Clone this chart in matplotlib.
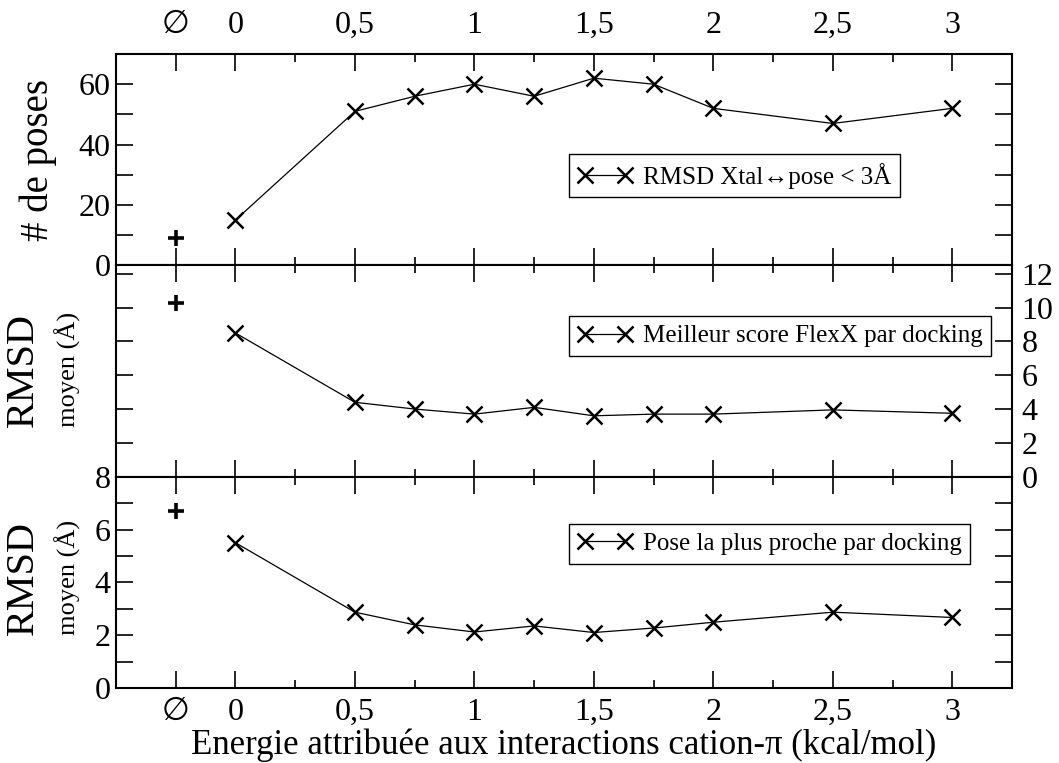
import numpy as np
import matplotlib
matplotlib.use("Agg")
from matplotlib import pyplot as plt
from matplotlib.ticker import MultipleLocator, FixedLocator, FuncFormatter

plt.rcParams['font.family'] = ['Liberation Serif', 'DejaVu Serif', 'DejaVu Sans']

# energie cation-pi (kcal/mol); -0.25 = sans terme cation-pi
energie = [0, 0.5, 0.75, 1, 1.25, 1.5, 1.75, 2, 2.5, 3]
x_vide = -0.25
tick_pos = [-0.25, 0, 0.5, 1, 1.5, 2, 2.5, 3]
tick_lab = ['\u2205', '0', '0,5', '1', '1,5', '2', '2,5', '3']

nb_poses = [15, 51, 56, 60, 56, 62, 60, 52, 47, 52]
rmsd_score = [8.5, 4.4, 4.0, 3.7, 4.1, 3.6, 3.7, 3.7, 3.95, 3.75]
rmsd_proche = [5.5, 2.87, 2.39, 2.12, 2.35, 2.1, 2.27, 2.49, 2.87, 2.67]
vide = [9, 10.3, 6.7]   # valeurs sans interaction cation-pi

labels = ["RMSD Xtal\u2194pose < 3\u00c5",
          "Meilleur score FlexX par docking",
          "Pose la plus proche par docking"]

fig, axs = plt.subplots(3, 1, sharex=True, figsize=(10.59, 7.63), dpi=100)
fig.subplots_adjust(left=0.1095, right=0.9556, top=0.9292, bottom=0.0983, hspace=0)

series = [nb_poses, rmsd_score, rmsd_proche]
ylims = [(0, 70), (0, 12.5), (0, 8)]
yticks = [10, 2, 1]
legend_top = [0.528, 0.76, 0.777]

for i, ax in enumerate(axs):
    ax.plot(energie, series[i], color='black', lw=0.9, marker='x', ms=11, mew=1.8,
            label=labels[i])
    ax.plot([x_vide], [vide[i]], ls='none', color='black', marker='+', ms=11, mew=2.6)
    ax.set_xlim(-0.5, 3.25)
    ax.set_ylim(*ylims[i])
    ax.xaxis.set_major_locator(FixedLocator(tick_pos))
    ax.xaxis.set_minor_locator(FixedLocator([0.25, 0.75, 1.25, 1.75, 2.25, 2.75]))
    ax.yaxis.set_major_locator(MultipleLocator(yticks[i]))
    ax.tick_params(which='both', direction='in', top=True, bottom=True, left=True, right=True,
                   width=1.2, labelsize=23, labelbottom=False, labeltop=False,
                   labelleft=False, labelright=False)
    ax.tick_params(which='major', length=12, pad=7)
    ax.tick_params(which='minor', length=6)
    for s in ax.spines.values():
        s.set_linewidth(1.5)
    leg = ax.legend(loc='upper left', bbox_to_anchor=(0.5056, legend_top[i]), borderaxespad=0,
                    numpoints=2, fontsize=18, fancybox=False, framealpha=1, edgecolor='black',
                    handlelength=2.2, handletextpad=0.4, borderpad=0.35)
    leg.get_frame().set_linewidth(1.0)

axs[0].set_xticklabels(tick_lab)
axs[0].tick_params(labeltop=True, labelleft=True)
axs[0].tick_params(axis='x', pad=10)
axs[0].tick_params(axis='y', pad=4)
axs[0].yaxis.set_major_formatter(FuncFormatter(
    lambda v, p: '%d' % v if v % 20 == 0 and v < 70 else ''))
axs[1].tick_params(labelright=True)
axs[1].yaxis.set_major_formatter(FuncFormatter(
    lambda v, p: '%d' % v if v <= 12 else ''))
axs[2].tick_params(labelbottom=True, labelleft=True)
axs[2].tick_params(axis='y', pad=4)
axs[2].yaxis.set_major_formatter(FuncFormatter(
    lambda v, p: '%d' % v if v % 2 == 0 else ''))

axs[2].set_xlabel("Energie attribu\u00e9e aux interactions cation-\u03c0 (kcal/mol)", fontsize=25,
                  labelpad=1)

fig.text(38 / 1059, 1 - 160 / 763, "# de poses", rotation=90, fontsize=28, ha='center', va='center')
for yc in [370, 578]:
    fig.text(23 / 1059, 1 - yc / 763, "RMSD", rotation=90, fontsize=29, ha='center', va='center')
    fig.text(68 / 1059, 1 - (yc - 1) / 763, "moyen (\u00c5)", rotation=90, fontsize=19,
             ha='center', va='center')

plt.savefig("out.png", dpi=100)
